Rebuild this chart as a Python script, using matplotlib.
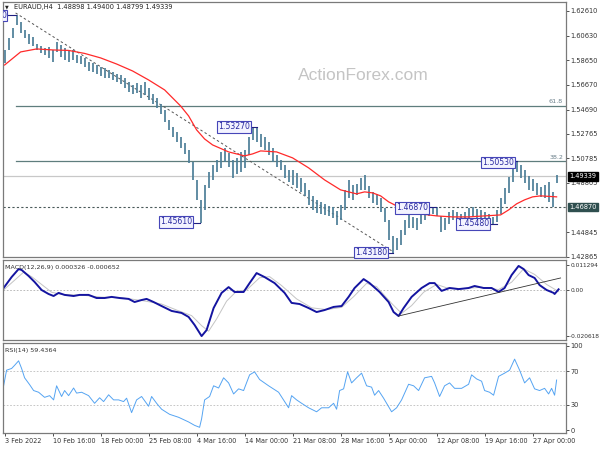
import matplotlib.pyplot as plt
from matplotlib import transforms

# EURAUD H4 bars, sampled every few bars across the chart (high / low)
bar_hi = [1.5948, 1.6044, 1.6124, 1.6229, 1.6173, 1.6108, 1.6076, 1.6052, 1.5996, 1.5980,
          1.5964, 1.5972, 1.5948, 1.6012, 1.5988, 1.5964, 1.5948, 1.5948, 1.5908, 1.5900,
          1.5884, 1.5851, 1.5843, 1.5827, 1.5811, 1.5803, 1.5787, 1.5771, 1.5755, 1.5747,
          1.5723, 1.5691, 1.5667, 1.5683, 1.5667, 1.5691, 1.5643, 1.5595, 1.5563, 1.5514,
          1.5466, 1.5386, 1.5330, 1.5290, 1.5249, 1.5201, 1.5145, 1.5049, 1.4904, 1.4744,
          1.4864, 1.4969, 1.5025, 1.5065, 1.5129, 1.5161, 1.5121, 1.5065, 1.5081, 1.5129,
          1.5145, 1.5249, 1.5322, 1.5327, 1.5273, 1.5249, 1.5209, 1.5161, 1.5105, 1.5065,
          1.5025, 1.4985, 1.4985, 1.4961, 1.4920, 1.4880, 1.4824, 1.4776, 1.4744, 1.4728,
          1.4712, 1.4695, 1.4687, 1.4655, 1.4704, 1.4824, 1.4904, 1.4864, 1.4872, 1.4920,
          1.4944, 1.4856, 1.4808, 1.4792, 1.4760, 1.4679, 1.4583, 1.4455, 1.4439, 1.4503,
          1.4583, 1.4623, 1.4607, 1.4599, 1.4639, 1.4663, 1.4695, 1.4687, 1.4687, 1.4615,
          1.4599, 1.4647, 1.4663, 1.4647, 1.4631, 1.4647, 1.4679, 1.4687, 1.4671, 1.4663,
          1.4647, 1.4631, 1.4607, 1.4663, 1.4760, 1.4840, 1.4928, 1.5017, 1.5053, 1.5025,
          1.4985, 1.4936, 1.4912, 1.4880, 1.4848, 1.4864, 1.4888, 1.4808, 1.4940]
bar_lo = [1.5843, 1.5948, 1.6044, 1.6149, 1.6084, 1.6044, 1.5996, 1.5980, 1.5948, 1.5924,
          1.5908, 1.5884, 1.5851, 1.5932, 1.5892, 1.5868, 1.5851, 1.5868, 1.5843, 1.5835,
          1.5811, 1.5779, 1.5771, 1.5755, 1.5739, 1.5723, 1.5723, 1.5707, 1.5691, 1.5675,
          1.5643, 1.5611, 1.5595, 1.5603, 1.5563, 1.5587, 1.5546, 1.5514, 1.5482, 1.5434,
          1.5370, 1.5306, 1.5249, 1.5209, 1.5161, 1.5113, 1.5041, 1.4904, 1.4744, 1.4561,
          1.4663, 1.4840, 1.4904, 1.4969, 1.5001, 1.5049, 1.5009, 1.4920, 1.4952, 1.4969,
          1.5001, 1.5105, 1.5225, 1.5209, 1.5169, 1.5145, 1.5105, 1.5049, 1.5009, 1.4985,
          1.4920, 1.4888, 1.4864, 1.4840, 1.4808, 1.4776, 1.4704, 1.4663, 1.4639, 1.4631,
          1.4623, 1.4615, 1.4599, 1.4543, 1.4583, 1.4663, 1.4760, 1.4744, 1.4784, 1.4824,
          1.4824, 1.4760, 1.4720, 1.4704, 1.4647, 1.4567, 1.4423, 1.4318, 1.4342, 1.4382,
          1.4463, 1.4519, 1.4519, 1.4503, 1.4551, 1.4583, 1.4615, 1.4631, 1.4615, 1.4487,
          1.4503, 1.4551, 1.4583, 1.4575, 1.4567, 1.4575, 1.4599, 1.4607, 1.4591, 1.4583,
          1.4567, 1.4551, 1.4548, 1.4567, 1.4631, 1.4712, 1.4800, 1.4888, 1.4969, 1.4920,
          1.4880, 1.4824, 1.4816, 1.4784, 1.4768, 1.4760, 1.4728, 1.4687, 1.4880]

# red moving average
ma_x = [0, 4, 8, 12, 16, 20, 24, 28, 32, 36, 40, 44, 46, 48, 50, 52, 56, 60, 62, 64, 68,
        72, 76, 80, 84, 88, 90, 92, 94, 96, 100, 104, 108, 112, 116, 120, 124, 126, 128,
        130, 132, 134, 138]
ma_val = [1.5827, 1.5932, 1.5956, 1.5948, 1.5944, 1.5920, 1.5884, 1.5835, 1.5779, 1.5707,
          1.5627, 1.5498, 1.5418, 1.5306, 1.5233, 1.5185, 1.5129, 1.5097, 1.5113, 1.5137,
          1.5129, 1.5081, 1.5001, 1.4904, 1.4824, 1.4792, 1.4808, 1.4800, 1.4776, 1.4728,
          1.4663, 1.4631, 1.4615, 1.4607, 1.4607, 1.4615, 1.4623, 1.4663, 1.4712, 1.4744,
          1.4768, 1.4776, 1.4768]

# MACD(12,26,9)
macd_x = [-0.25, 1.75, 3.5, 4.25, 6, 7.5, 9.25, 11, 12.25, 13.5,
          15, 17.25, 18.75, 21, 23, 25, 26.75, 28.75, 31, 32.5,
          34.25, 35.5, 37.25, 39.25, 41.75, 44.25, 46, 47.5, 49.25, 50.5,
          52.25, 54.25, 56, 57.5, 59.75, 61.25, 63, 65, 67.5, 70,
          71.75, 73.75, 74.25, 76, 78, 80, 82.25, 84.25, 86, 87.5,
          89.75, 91.25, 93.75, 96, 97.25, 98.5, 99.75, 101.75, 104.25, 106.25,
          107.5, 109.25, 111.25, 113.5, 116, 117.5, 119.75, 121.75, 123.5, 125,
          126.75, 128.5, 129.75, 131, 132.5, 133.75, 135.5, 137.25, 137.5, 138.5]
macd_val = [0.0009, 0.0058, 0.0094, 0.0090, 0.0063, 0.0036, 0.0000, -0.0018, -0.0027, -0.0013,
            -0.0022, -0.0027, -0.0022, -0.0022, -0.0036, -0.0036, -0.0031, -0.0036, -0.0040, -0.0054,
            -0.0045, -0.0040, -0.0054, -0.0072, -0.0094, -0.0103, -0.0121, -0.0157, -0.0207, -0.0180,
            -0.0081, -0.0013, 0.0013, -0.0009, -0.0009, 0.0031, 0.0076, 0.0058, 0.0031, -0.0013,
            -0.0058, -0.0063, -0.0067, -0.0081, -0.0099, -0.0090, -0.0076, -0.0072, -0.0031, 0.0009,
            0.0049, 0.0031, -0.0009, -0.0054, -0.0099, -0.0117, -0.0081, -0.0031, 0.0009, 0.0031,
            0.0031, -0.0004, 0.0009, 0.0004, 0.0009, 0.0018, 0.0009, 0.0009, -0.0009, 0.0009,
            0.0067, 0.0108, 0.0094, 0.0067, 0.0054, 0.0022, 0.0000, -0.0013, -0.0018, 0.0003]
signal_x = [-0.25, 2.25, 4.75, 6.75, 9.25, 11.75, 14.25, 19.25, 24.25, 29.25,
            34.25, 39.25, 43, 46.75, 49.25, 51, 53, 55.5, 58, 60.5,
            63.75, 66.25, 69.25, 73, 76.75, 80.5, 84.25, 87.25, 90.5, 93,
            96.75, 99.25, 101.75, 104.75, 108, 110.5, 114.25, 119.25, 123.5, 126.75,
            129.75, 132.5, 135.5, 138.5]
signal_val = [0.0000, 0.0040, 0.0080, 0.0060, 0.0025, -0.0010, -0.0020, -0.0023, -0.0032, -0.0035,
              -0.0047, -0.0063, -0.0090, -0.0115, -0.0160, -0.0185, -0.0130, -0.0050, -0.0005, 0.0000,
              0.0055, 0.0060, 0.0020, -0.0040, -0.0080, -0.0088, -0.0078, -0.0030, 0.0030, 0.0015,
              -0.0060, -0.0105, -0.0070, -0.0010, 0.0025, 0.0010, 0.0006, 0.0012, 0.0002, 0.0035,
              0.0095, 0.0070, 0.0025, -0.0007]

# RSI(14)
rsi_x = [-0.25, 0.5, 1.75, 2.5, 3.5, 4.25, 5, 6.25, 7.25, 8.5,
         10, 11.25, 12.25, 13, 14.25, 15, 16, 17.25, 18, 19.25,
         21, 22.5, 23.75, 24.75, 26, 27.25, 28.5, 29.75, 30.5, 31.75,
         33, 34.25, 36, 36.75, 38, 39.25, 41.25, 43.5, 46, 47.5,
         48.75, 49.25, 50, 51.25, 52.25, 53.5, 54.75, 56, 57.25, 58.5,
         59.75, 61.25, 62.5, 63.75, 66, 68.5, 71, 71.75, 73, 74.25,
         76, 78, 79.25, 81, 82.25, 83, 83.75, 84.75, 85.75, 86.75,
         88, 89.25, 90.5, 91.75, 92.5, 93.5, 94.75, 95.75, 96.75, 98,
         99.25, 101, 102.25, 103.5, 105, 106.75, 107.5, 108.75, 110, 111.25,
         112.5, 114.25, 116, 116.75, 118, 119.25, 120, 121.25, 122.25, 123.5,
         125, 126.25, 127.5, 128.75, 130, 131.25, 132.5, 133.75, 135, 136,
         136.75, 137.5, 138]
rsi_val = [52.6, 71, 73, 76.7, 82, 73, 62, 54, 47, 45,
           39, 41, 36, 52.6, 40, 47, 41, 50, 44, 45,
           41, 32, 38.5, 34, 42, 36, 36, 34, 38, 21,
           36, 40, 28.5, 40, 32, 25, 19, 15.5, 10, 6,
           3.7, 13.7, 36, 40, 52.6, 50, 62, 56, 43, 49,
           47, 65.5, 69, 60, 52.6, 45, 26.7, 41, 36, 32,
           26.7, 22, 26.7, 26.7, 32, 25, 47, 49, 69, 56,
           62, 67.5, 52.6, 51, 41.5, 47, 38, 30, 22, 26.7,
           36, 54.4, 52.6, 47, 62, 63.7, 56, 40, 52.6, 56,
           49.6, 49.6, 54.4, 65.5, 60.7, 58, 47, 45, 41.5, 63.7,
           67.5, 71, 84, 71, 56, 62, 49, 47, 49.6, 43,
           49.6, 41.5, 59.4]

date_labels = ["3 Feb 2022", "10 Feb 16:00", "18 Feb 00:00", "25 Feb 08:00", "4 Mar 16:00",
               "14 Mar 00:00", "21 Mar 08:00", "28 Mar 16:00", "5 Apr 00:00", "12 Apr 08:00",
               "19 Apr 16:00", "27 Apr 00:00"]
price_ticks = [1.62610, 1.60630, 1.58650, 1.56670, 1.54690, 1.52765, 1.50785, 1.48805,
               1.44845, 1.42865]
last_price = 1.49339
support = 1.46870
fib_levels = [(1.5500, "61.8"), (1.5055, "38.2")]

W, H = 600, 450
fig = plt.figure(figsize=(6, 4.5), dpi=100)


def px_axes(left, top, right, bottom):
    return fig.add_axes([left / W, 1 - bottom / H, (right - left) / W, (bottom - top) / H])


ax = px_axes(3, 2, 566, 257)
ax_macd = px_axes(3, 260, 566, 340)
ax_rsi = px_axes(3, 343, 566, 433)

frame = '#7a7a7a'
for a in (ax, ax_macd, ax_rsi):
    a.set_xlim(-0.4, 140.35)
    for s in a.spines.values():
        s.set_color(frame)
        s.set_linewidth(0.9)
    a.yaxis.tick_right()
    a.tick_params(axis='y', labelsize=4.8, length=2, pad=1.2, colors='#333333', width=0.6)
    a.tick_params(axis='x', bottom=False, labelbottom=False)

# ---- main price panel
ax.set_ylim(1.4285, 1.6333)
idx = list(range(len(bar_hi)))
ax.vlines(idx, bar_lo, bar_hi, color='#4d7f98', lw=1.25, zorder=3)
ax.plot(ma_x, ma_val, color='#ff2a2a', lw=0.9, zorder=4)

ax.axhline(last_price, color='#c8c8c8', lw=0.9, zorder=1)
ax.axhline(support, color='#4a5a5a', lw=0.8, ls=(0, (2, 2)), zorder=1)
for lvl, name in fib_levels:
    ax.plot([2.75, 140.35], [lvl, lvl], color='#5f7d7d', lw=0.9, zorder=2)
    ax.text(139.6, lvl + 0.0012, name, fontsize=4.6, color='#6a7f8a', ha='right', va='bottom')

# trendline from the top to the 1.4318 low
ax.plot([2.75, 97], [1.6245, 1.4330], color='#555555', lw=0.7, ls=(0, (2.5, 2.5)), zorder=2)

ax.set_yticks(price_ticks)
ax.set_yticklabels(['%.5f' % p for p in price_ticks])

blend = transforms.blended_transform_factory(ax.transAxes, ax.transData)
ax.text(1.006, last_price, '%.5f' % last_price, transform=blend, fontsize=4.8, color='white',
        ha='left', va='center', bbox=dict(boxstyle='square,pad=0.2', fc='black', ec='black'))
ax.text(1.006, support, '%.5f' % support, transform=blend, fontsize=4.8, color='white',
        ha='left', va='center', bbox=dict(boxstyle='square,pad=0.2', fc='#2f4f4f', ec='#2f4f4f'))

box = dict(boxstyle='square,pad=0.15', fc='#f3f3ff', ec='#4646b8', lw=0.8)
swing_labels = [
    # text, box centre x, box centre y, line from x, line to x, line price
    ("1.53270", 57.3, 1.5330, 61.3, 63.0, 1.5327),
    ("1.45610", 42.8, 1.4567, 46.8, 48.8, 1.4561),
    ("1.43180", 91.6, 1.4320, 95.7, 97.0, 1.4318),
    ("1.46870", 101.8, 1.4679, 106.0, 107.8, 1.4687),
    ("1.45480", 117.1, 1.4551, 121.2, 123.0, 1.4548),
    ("1.50530", 123.3, 1.5045, 127.3, 128.0, 1.5053),
]
for txt, bx, by, x0, x1, lp in swing_labels:
    ax.text(bx, by, txt, fontsize=5.6, color='#2a2aa0', ha='center', va='center', bbox=box, zorder=6)
    ax.plot([x0, x1], [lp, lp], color='#1f1f80', lw=0.8, zorder=5)
ax.text(-0.2, 1.6222, '0', fontsize=5.6, color='#2a2aa0', ha='center', va='center', bbox=box,
        zorder=6, clip_on=True)
ax.plot([0.6, 2.75], [1.6232, 1.6232], color='#1f1f80', lw=0.8, zorder=5)

ax.text(0.64, 0.71, 'ActionForex.com', transform=ax.transAxes, fontsize=12.5,
        family='Liberation Sans', color='#c4c4c4', ha='center', va='center')

fig.text(5 / W, 1 - 7 / H, '▼', fontsize=3.5, color='#222222', va='center')
fig.text(14 / W, 1 - 7 / H, 'EURAUD,H4  1.48898 1.49400 1.48799 1.49339', fontsize=4.8,
         color='#222222', va='center')

# ---- MACD panel
ax_macd.set_ylim(-0.02245, 0.01347)
ax_macd.axhline(0, color='#b0b0b0', lw=0.6, ls=(0, (2, 2)))
ax_macd.plot(signal_x, signal_val, color='#c4c4c4', lw=0.7)
ax_macd.plot(macd_x, macd_val, color='#1414a0', lw=1.4)
ax_macd.plot([98.5, 139.0], [-0.01167, 0.0054], color='#333333', lw=0.6)
ax_macd.set_yticks([0.011294, 0.0, -0.020618])
ax_macd.set_yticklabels(['0.011294', '0.00', '-0.020618'])
ax_macd.tick_params(axis='y', labelsize=4.2, pad=1)
ax_macd.text(0.004, 0.9, 'MACD(12,26,9) 0.000326 -0.000652', transform=ax_macd.transAxes,
             fontsize=4.6, color='#333333', va='center')

# ---- RSI panel
ax_rsi.set_ylim(-3, 103)
for lvl in (70, 30):
    ax_rsi.axhline(lvl, color='#bdbdbd', lw=0.6, ls=(0, (2, 2)))
ax_rsi.plot(rsi_x, rsi_val, color='#55a4f2', lw=0.7)
ax_rsi.set_yticks([100, 70, 30, 0])
ax_rsi.text(0.004, 0.92, 'RSI(14) 59.4364', transform=ax_rsi.transAxes, fontsize=4.6,
            color='#333333', va='center')
ax_rsi.tick_params(axis='x', bottom=True, labelbottom=True, labelsize=4.7, length=2, pad=1.5,
                   colors='#333333', width=0.6)
ax_rsi.set_xticks(range(0, 12 * len(date_labels), 12))
ax_rsi.set_xticklabels(date_labels, ha='left')

fig.savefig('out.png', dpi=100)
